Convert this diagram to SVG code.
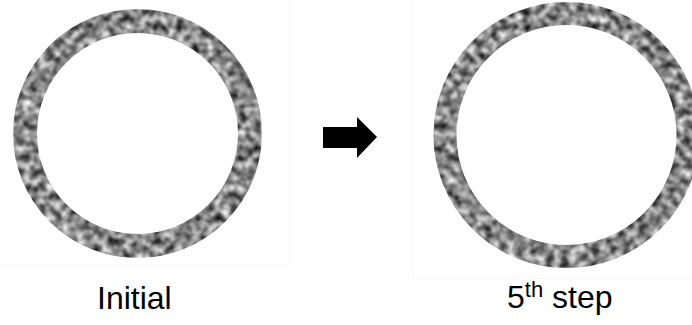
<svg xmlns="http://www.w3.org/2000/svg" width="692" height="325" viewBox="0 0 692 325">
<style>
.lbl{font-family:"Liberation Sans",Arial,sans-serif;font-size:32px;fill:#000}
.panel{fill:#fefefe;stroke:#f9f9f9;stroke-width:1}
.ring{fill:none;stroke:#808080}
</style>
<defs>
<filter id="noise" x="-5%" y="-5%" width="110%" height="110%" color-interpolation-filters="sRGB">
<feTurbulence type="fractalNoise" baseFrequency="0.13" numOctaves="3" seed="7" result="t"/>
<feColorMatrix in="t" type="matrix" values="1.5 0 0 0 -0.22  1.5 0 0 0 -0.22  1.5 0 0 0 -0.22  0 0 0 0 1" result="g"/>
<feGaussianBlur in="g" stdDeviation="0.9" result="b"/>
<feComposite in="b" in2="SourceGraphic" operator="in"/>
</filter>
</defs>
<rect width="692" height="325" fill="#fff"/>
<rect class="panel" x="-1" y="-1" width="291.5" height="266.5"/>
<rect class="panel" x="412.5" y="-1" width="281" height="279.5"/>
<g id="ring-initial">
<circle class="ring" cx="137.5" cy="133.5" r="112.5" stroke-width="24" filter="url(#noise)"/>
</g>
<g id="ring-5th">
<circle class="ring" cx="566.5" cy="135" r="121.5" stroke-width="23" filter="url(#noise)"/>
</g>
<g id="connectors">
<polygon points="323,127 357,127 357,117 377,137 357,158 357,148 323,148" fill="#000"/>
</g>
<g id="label-initial">
<text class="lbl" x="97" y="309">Initial</text>
</g>
<g id="label-5th">
<text class="lbl" x="507" y="308">5<tspan font-size="22" dy="-11">th</tspan><tspan dy="11"> step</tspan></text>
</g>
</svg>
